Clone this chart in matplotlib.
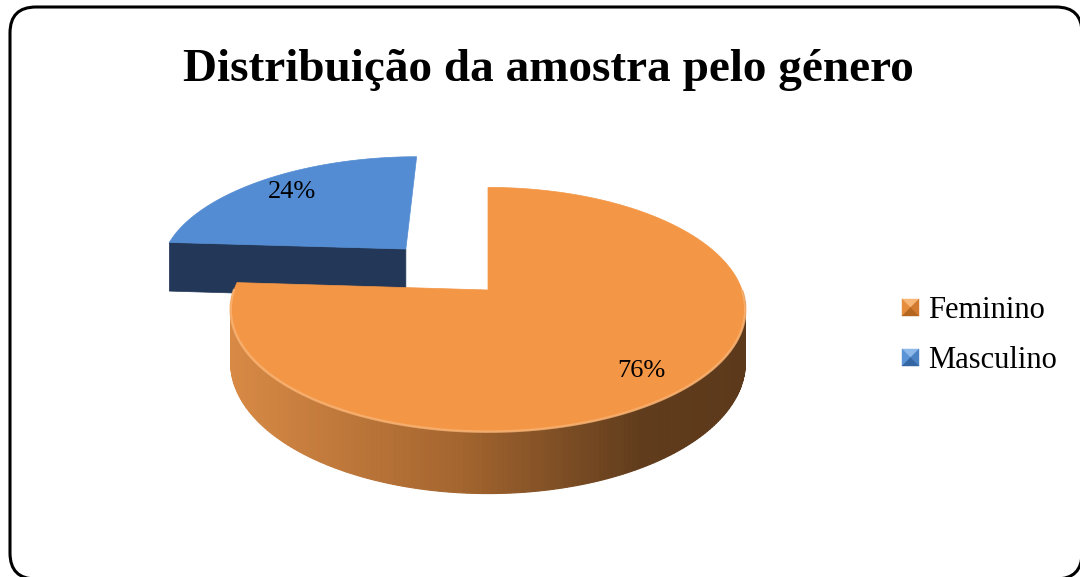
import matplotlib
matplotlib.use('Agg')
import matplotlib.pyplot as plt
import numpy as np
from matplotlib.patches import Polygon, FancyBboxPatch
from matplotlib.colors import LinearSegmentedColormap

plt.rcParams['font.family'] = ['Liberation Serif', 'DejaVu Serif']

# chart data
title = 'Distribuição da amostra pelo género'
categories = ['Feminino', 'Masculino']
values = [76, 24]
explode = [0.0, 0.5]
top_colors = ['#F39646', '#538CD3']
side_colors = ['#D88A45', '#233858']

# pseudo 3d projection (pixel space of a 1080x577 canvas)
CX, CY = 488, 290
A, C, K, E = 254, 119, 0.16, 52


def proj(u, v, z):
    w = 1 + K * v
    return CX + A * u / w, CY - (C * v + E * z) / w


fig = plt.figure(figsize=(10.8, 5.77), dpi=100)
ax = fig.add_axes([0, 0, 1, 1])
ax.set_xlim(0, 1080)
ax.set_ylim(577, 0)
ax.axis('off')

# rounded frame
frame = FancyBboxPatch((10, 7), 1072, 572, boxstyle='round,pad=0,rounding_size=26',
                       fc='white', ec='black', lw=2.2, zorder=0)
ax.add_patch(frame)

ax.text(548, 81, title, ha='center', va='baseline', fontsize=34,
        fontweight='bold', zorder=10)

orange_side = LinearSegmentedColormap.from_list(
    'oside', [(0, '#D88A45'), (0.45, '#A4652F'), (0.8, '#603C1C'), (1, '#5C391A')])

# slice angles: start at 12 o'clock, clockwise
total = float(sum(values))
starts, ends = [], []
t = 90.0
for val in values:
    starts.append(t)
    t -= 360.0 * val / total
    ends.append(t)

# exploded (farther) slice first
order = sorted(range(len(values)), key=lambda i: -explode[i])
label_r = [0.8, 0.8]

for i in order:
    t0, t1 = np.radians(starts[i]), np.radians(ends[i])
    mid = (t0 + t1) / 2
    du, dv = explode[i] * np.cos(mid), explode[i] * np.sin(mid)
    ts = np.linspace(t0, t1, 300)
    ru, rv = du + np.cos(ts), dv + np.sin(ts)

    # radial cut faces
    for tt, nrm in [(t0, (-np.sin(t0), np.cos(t0))), (t1, (np.sin(t1), -np.cos(t1)))]:
        if nrm[1] < -0.05:
            pu, pv = du + np.cos(tt), dv + np.sin(tt)
            quad = [proj(du, dv, 0), proj(pu, pv, 0), proj(pu, pv, -1), proj(du, dv, -1)]
            ax.add_patch(Polygon(quad, closed=True, fc=side_colors[i], ec=side_colors[i],
                                 lw=0.5, zorder=2))

    # outer side (front part only)
    front = np.sin(ts) < 0
    xs_all = [proj(a, b, 0)[0] for a, b in zip(ru, rv)]
    xmin, xmax = CX - A * 1.02, CX + A * 1.02
    for j in range(len(ts) - 1):
        if not (front[j] and front[j + 1]):
            continue
        quad = [proj(ru[j], rv[j], 0), proj(ru[j + 1], rv[j + 1], 0),
                proj(ru[j + 1], rv[j + 1], -1), proj(ru[j], rv[j], -1)]
        if i == 0:
            frac = np.clip((xs_all[j] - xmin) / (xmax - xmin), 0, 1)
            col = orange_side(frac)
        else:
            col = side_colors[i]
        ax.add_patch(Polygon(quad, closed=True, fc=col, ec=col, lw=0.8, zorder=2))

    # top face
    pts = [proj(du, dv, 0)] + [proj(a, b, 0) for a, b in zip(ru, rv)]
    ax.add_patch(Polygon(pts, closed=True, fc=top_colors[i], ec=top_colors[i],
                         lw=0.5, zorder=3))

    # light rim on the front edge
    if front.any():
        rim = np.array([proj(a, b, 0) for a, b in zip(ru[front], rv[front])])
        ax.plot(rim[:, 0], rim[:, 1], color='#F9B475', lw=1.8, alpha=0.8, zorder=4)

    # percentage label
    lu, lv = du + label_r[i] * np.cos(mid), dv + label_r[i] * np.sin(mid)
    lx, ly = proj(lu, lv, 0)
    ax.text(lx, ly + (4 if i == 0 else 0), '%d%%' % round(100 * values[i] / total),
            ha='center', va='center', fontsize=19, zorder=6)

# legend with bevelled squares
shades = {0: ('#F8B677', '#E68C3D', '#D27A2F', '#B4661F'),
          1: ('#8DB8EA', '#5A93D6', '#4A82C4', '#3466A3')}
for i, name in enumerate(categories):
    x0, y0, s = 902, 299 + 50 * i, 17
    c = (x0 + s / 2, y0 + s / 2)
    tl, tr, br, bl = (x0, y0), (x0 + s, y0), (x0 + s, y0 + s), (x0, y0 + s)
    top, left, right, bottom = shades[i]
    for tri, col in [([tl, tr, c], top), ([tl, bl, c], left),
                     ([tr, br, c], right), ([bl, br, c], bottom)]:
        ax.add_patch(Polygon(tri, closed=True, fc=col, ec=col, lw=0.3, zorder=5))
    ax.text(928, y0 + 19, name, ha='left', va='baseline', fontsize=22, zorder=6)

fig.savefig('out.png', dpi=100)
